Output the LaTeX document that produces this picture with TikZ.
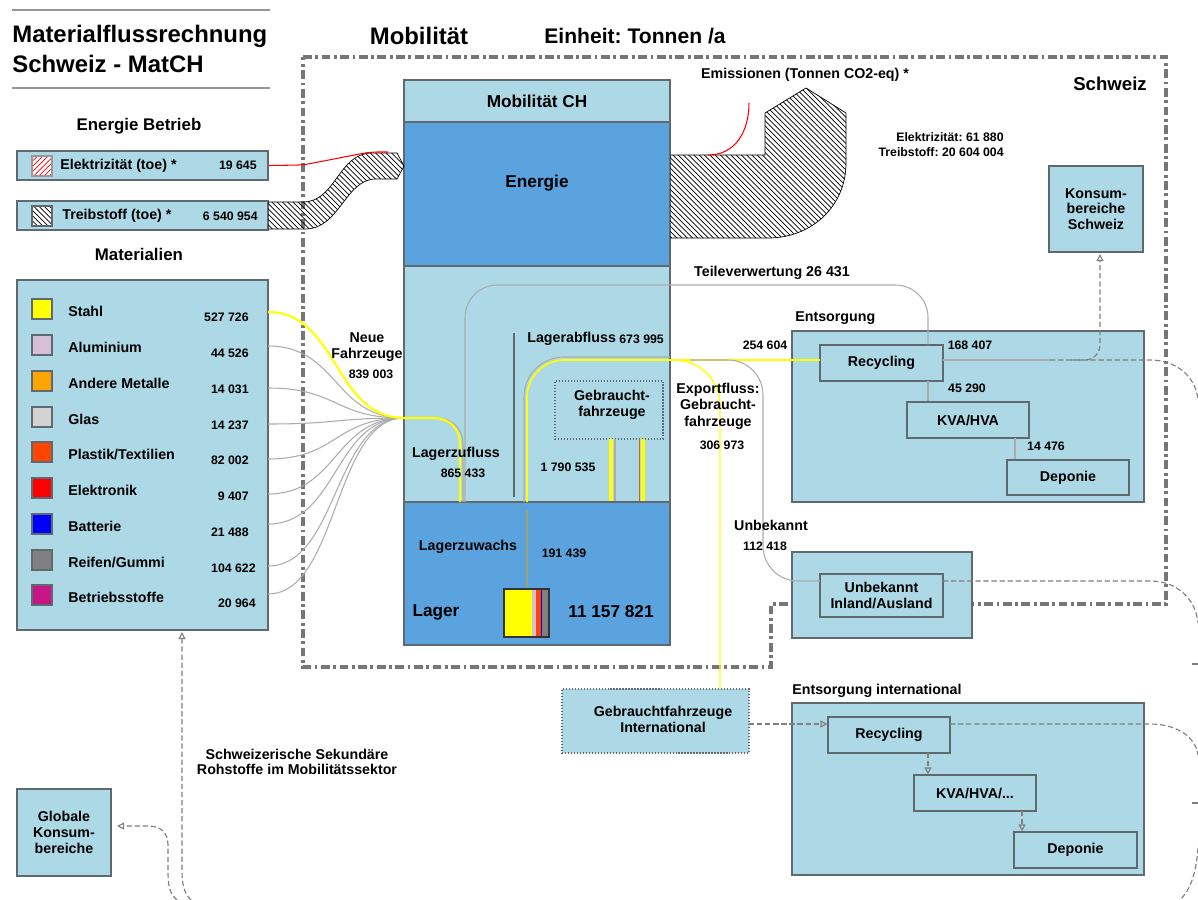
\documentclass[tikz,border=0pt]{standalone}
\usepackage{fontspec}
\setmainfont{Liberation Sans}
\usetikzlibrary{arrows.meta,patterns,positioning}
\frenchspacing

\definecolor{boxblue}{RGB}{173,216,230}
\definecolor{deepblue}{RGB}{91,163,222}
\definecolor{edgegray}{RGB}{96,104,112}
\definecolor{flowgray}{RGB}{172,172,172}
\definecolor{dashgray}{RGB}{128,128,128}
\definecolor{chgray}{RGB}{118,118,118}
\definecolor{rulegray}{RGB}{150,150,150}
\definecolor{cstahl}{RGB}{255,255,0}
\definecolor{calu}{RGB}{216,191,216}
\definecolor{cmet}{RGB}{255,165,0}
\definecolor{cglas}{RGB}{211,211,211}
\definecolor{cplast}{RGB}{255,69,0}
\definecolor{celek}{RGB}{255,0,0}
\definecolor{cbatt}{RGB}{0,0,255}
\definecolor{cgummi}{RGB}{128,128,128}
\definecolor{cbetr}{RGB}{199,21,133}
\definecolor{cwachs}{RGB}{160,160,120}

\newcommand{\fttl}{\bfseries\fontsize{13.6}{15}\selectfont}
\newcommand{\fhead}{\bfseries\fontsize{12}{14}\selectfont}
\newcommand{\fsch}{\bfseries\fontsize{10.6}{12}\selectfont}
\newcommand{\fsub}{\bfseries\fontsize{9.6}{11}\selectfont}
\newcommand{\fbig}{\bfseries\fontsize{9.8}{11}\selectfont}
\newcommand{\flbl}{\bfseries\fontsize{8.1}{8.9}\selectfont}
\newcommand{\flbw}{\bfseries\fontsize{8.1}{9.4}\selectfont}
\newcommand{\fnum}{\bfseries\fontsize{7}{8.5}\selectfont}

\tikzset{
  sz/.style 2 args={minimum width=#1*0.02cm, minimum height=#2*0.02cm},
  box/.style={draw=edgegray, fill=boxblue, line width=0.7pt, inner sep=0pt, align=center, font=\flbl},
  dotbox/.style={box, densely dotted},
  txt/.style={inner sep=0pt, align=center},
  swatch/.style={draw=edgegray, line width=0.6pt, minimum size=0.4cm, inner sep=0pt},
  titlerule/.style={rulegray, line width=0.8pt},
  chline/.style={chgray, line width=2.1pt, dash pattern=on 5pt off 2pt on 1.6pt off 2pt},
  gflow/.style={flowgray, line width=0.6pt},
  yflow/.style={cstahl, line width=1pt},
  dconn/.style={dashgray, line width=0.65pt, dash pattern=on 3pt off 1.6pt},
  opentip/.style={-{Triangle[open, length=4pt, width=4pt]}},
  hatchband/.style={pattern=north west lines, draw=black, line width=0.4pt},
}

\begin{document}
\begin{tikzpicture}[x=0.02cm, y=-0.02cm]
\useasboundingbox (0,0) rectangle (1198,900);

\draw[titlerule] (12,10) -- (270,10);
\node[txt, anchor=base west, font=\fttl] (ttla) at (12,42) {Materialflussrechnung};
\node[txt, anchor=base west, font=\fttl] (ttlb) at (12,72) {Schweiz - MatCH};
\draw[titlerule] (12,88) -- (270,88);
\node[txt, font=\fttl] (mobtitle) at (419,36) {Mobilität};
\node[txt, font=\fhead] (einheit) at (635,36) {Einheit: Tonnen /a};

\draw[chline] (303,57) -- (1166,57) -- (1166,604) -- (771,604) -- (771,667) -- (303,667) -- cycle;
\node[txt, font=\fsch] (chlab) at (1110,84) {Schweiz};

\node[txt, font=\fsub] (enbetr) at (139,126) {Energie Betrieb};
\node[box, sz={251}{29}] (elek) at (142.5,165.5) {};
\node[swatch, draw=black!40, preaction={fill=white}, pattern=north east lines, pattern color=red] (elsq) at (42,166) {};
\node[txt, anchor=west, font=\flbl] (elektxt) at (60,166) {Elektrizität (toe) *};
\node[txt, anchor=east, font=\fnum] (eleknum) at (257,165) {19 645};
\node[box, sz={251}{29}] (treib) at (142.5,215.5) {};
\node[swatch, preaction={fill=white}, pattern=north west lines] (trsq) at (42,216) {};
\node[txt, anchor=west, font=\flbl] (treibtxt) at (62,216) {Treibstoff (toe) *};
\node[txt, anchor=east, font=\fnum] (treibnum) at (258,216) {6 540 954};

\node[txt, font=\fsub] (mathead) at (139,254) {Materialien};
\node[box, sz={251}{350}] (mat) at (142.5,455) {};
\foreach \yy/\yo/\nm/\col/\val/\vx [count=\k] in {
  309/312/Stahl/cstahl/527 726/249,
  345/346/Aluminium/calu/44 526/249,
  381/388/Andere Metalle/cmet/14 031/249,
  417/424/Glas/cglas/14 237/249,
  452/459/{Plastik/Textilien}/cplast/82 002/249,
  488/494/Elektronik/celek/9 407/249,
  524/524/Batterie/cbatt/21 488/249,
  560/566/{Reifen/Gummi}/cgummi/104 622/256,
  595/594/Betriebsstoffe/cbetr/20 964/256}
{
  \node[swatch, fill=\col] (sq\k) at (42,\yy) {};
  \node[txt, anchor=west, font=\flbl] (lab\k) at (68,\yy+2) {\nm};
  \node[txt, anchor=east, font=\fnum] (num\k) at (\vx,\yy+8) {\val};
  \coordinate (out\k) at (268,\yo);
}

\node[box, sz={266}{42}, font=\fbig] (mobch) at (537,101) {Mobilität CH};
\node[box, fill=deepblue, sz={266}{144}] (energie) at (537,194) {};
\node[txt, font=\fbig] (energietxt) at (537,183) {Energie};
\node[box, sz={266}{236}] (mitte) at (537,384) {};
\node[box, fill=deepblue, sz={266}{143}] (lager) at (537,573.5) {};

\draw[hatchband] (268,202) -- (303,202) .. controls (336,202) and (338,153) .. (372,153) -- (397,153) -- (404,166) -- (397,179) -- (376,179) .. controls (345,179) and (340,229) .. (305,229) -- (268,229);
\draw[celek, line width=0.6pt, rounded corners=0.15cm] (elek.east) -- (303,165) -- (370,152) -- (388,152);
\draw[hatchband] (670,155) -- (765,155) -- (765,113) -- (806,88) -- (846,113) -- (846,163) .. controls (846,206) and (812,238) .. (768,238) -- (670,238);
\draw[celek, line width=0.6pt] (708,155) .. controls (735,155) and (749,132) .. (749,103);
\node[txt, font=\flbl] (emis) at (805,75) {Emissionen (Tonnen CO2-eq) *};
\node[txt, font=\fnum, align=right, anchor=east] (emisnum) at (1004,145) {Elektrizität: 61 880\\Treibstoff: 20 604 004};

\node[box, sz={94}{86}] (konsum) at (1096,209) {Konsum-\\bereiche\\Schweiz};

\draw[edgegray, line width=0.8pt] (514,333) -- (514,497);
\node[dotbox, sz={108}{58}] (gebr) at (609,410) {};
\node[txt, font=\flbw] (gebrtxt) at (612,405) {Gebraucht-\\fahrzeuge};

\coordinate (sta) at (611,439);
\coordinate (stc) at (615,439);
\coordinate (std) at (639.5,439);
\coordinate (stb) at (643,439);
\draw[cstahl, line width=2.3pt] (sta) -- (sta |- lager.north);
\draw[calu!60!gray, line width=1pt] (stc) -- (stc |- lager.north);
\draw[cplast!50!gray, line width=0.7pt] (std) -- (std |- lager.north);
\draw[cstahl, line width=2.4pt] (stb) -- (stb |- lager.north);

\fill[cstahl] (504,589) rectangle (532,637);
\fill[calu] (532,589) rectangle (536,637);
\fill[cplast] (536,589) rectangle (541,637);
\fill[cbatt] (541,589) rectangle (542.2,637);
\fill[cgummi] (542.2,589) rectangle (549,637);
\node[draw=black!80, line width=0.6pt, sz={45}{48}, inner sep=0pt] (stack) at (526.5,613) {};
\coordinate (zw) at (527,510);
\draw[cwachs, line width=0.6pt] (zw) -- (zw |- stack.north);
\node[txt, font=\flbl] (zuwachs) at (468,547) {Lagerzuwachs};
\node[txt, font=\fnum] (zuwachsn) at (564,553) {191 439};
\node[txt, font=\fbig] (lagertxt) at (436,612) {Lager};
\node[txt, font=\fbig] (lagern) at (611,612) {11 157 821};

\coordinate (lzin) at (404,418);
\coordinate (zuin) at (463,502);
\coordinate (zuiny) at (460,502);
\foreach \k in {2,...,9}
  \draw[gflow] (out\k) .. controls +(70,0) and +(-70,0) .. (lzin);
\draw[yflow, line width=1.2pt] (out1) .. controls +(70,0) and +(-70,0) .. (lzin);
\draw[gflow, rounded corners=0.5cm] (lzin) -- (zuin |- lzin) -- (zuin);
\draw[yflow, line width=1.2pt, rounded corners=0.5cm] (lzin) -- (zuiny |- lzin) -- (zuiny);
\node[txt, font=\flbw] (neuf) at (367,347) {Neue\\Fahrzeuge};
\node[txt, font=\fnum] (neufn) at (371,374) {839 003};

\node[txt, anchor=west, font=\flbl] (entsl) at (795,318) {Entsorgung};
\node[box, line width=1pt, sz={352}{171}] (entsorg) at (968,416.5) {};
\node[box, sz={123}{36}] (recyc) at (881.5,363) {Recycling};
\node[box, sz={122}{36}] (kva) at (968,420) {KVA/HVA};
\node[box, sz={122}{35}] (depo) at (1068,477.5) {Deponie};

\node[box, line width=1pt, sz={180}{86}] (unbek) at (882,595) {};
\node[box, sz={123}{43}] (unbin) at (881.5,595.5) {Unbekannt\\Inland/Ausland};

\coordinate (tvs) at (465,502);
\coordinate (tvk) at (928,285);
\draw[gflow, rounded corners=0.65cm] (tvs) -- (tvs |- tvk) -- (tvk) -- (tvk |- recyc.north);
\node[txt, font=\flbl] (tvl) at (772,273) {Teileverwertung 26 431};

\coordinate (abst) at (527,502);
\coordinate (recw) at (820,360);
\draw[gflow, rounded corners=0.8cm] (524,502) -- (524,357) -- (670,357);
\draw[yflow, rounded corners=0.75cm] (abst) -- (abst |- recw) -- (recw);
\node[txt, font=\fnum] (n254) at (765,345) {254 604};

\coordinate (exb) at (640,360);
\coordinate (exi) at (720,689);
\draw[yflow, line width=0.8pt, rounded corners=0.9cm] (exb) -- (exi |- exb) -- (exi);
\node[txt, font=\flbw] (expl) at (718,406) {Exportfluss:\\Gebraucht-\\fahrzeuge};
\node[txt, font=\fnum] (expn) at (722,445) {306 973};

\coordinate (ubb) at (690,360);
\coordinate (ubv) at (763,450);
\coordinate (ubw) at (820,581);
\draw[gflow, rounded corners=0.7cm] (ubb) -- (ubv |- ubb) -- (ubv |- ubw) -- (ubw);
\node[txt, font=\flbl] (unbl) at (771,525) {Unbekannt};
\node[txt, font=\fnum] (unbn) at (765,546) {112 418};

\node[txt, anchor=west, font=\flbl] (abfl) at (527,339) {Lagerabfluss};
\node[txt, anchor=west, font=\fnum] (abfln) at (619,339) {673 995};
\node[txt, font=\flbl] (zufl) at (456,454) {Lagerzufluss};
\node[txt, font=\fnum] (zufln) at (463,473) {865 433};
\node[txt, font=\fnum] (gebrn) at (568,467) {1 790 535};

\coordinate (rk) at (928,381);
\draw[gflow] (rk) -- (rk |- kva.north);
\coordinate (kd) at (1015,438);
\draw[gflow] (kd) -- (kd |- depo.north);
\node[txt, font=\fnum] (n168) at (970,345) {168 407};
\node[txt, font=\fnum] (n45) at (967,388) {45 290};
\node[txt, font=\fnum] (n14) at (1046,446) {14 476};

\coordinate (recr) at (943,360);
\coordinate (mrg) at (1050,360);
\coordinate (ksb) at (1100,254);
\draw[gflow] (recr) -- (mrg);
\draw[dconn] (mrg) -- (1150,360) .. controls (1178,360) and (1196,378) .. (1198,400);
\draw[dconn, opentip, rounded corners=0.3cm] (1070,360) -- (ksb |- mrg) -- (ksb);

\coordinate (ubr) at (943,581);
\draw[dconn] (ubr) -- (1150,581) .. controls (1178,581) and (1196,600) .. (1198,623);

\node[dotbox, sz={187}{64}] (gebrint) at (655.5,721) {};
\node[txt, font=\flbl] (gebrinttxt) at (663,719.5) {Gebrauchtfahrzeuge\\International};

\node[txt, anchor=west, font=\flbl] (eintl) at (792,691) {Entsorgung international};
\node[box, line width=1pt, sz={352}{172}] (entint) at (968,789) {};
\node[box, sz={122}{36}] (recint) at (889,735) {Recycling};
\node[box, sz={122}{36}] (kvaint) at (975,793) {KVA/HVA/...};
\node[box, sz={123}{36}] (depint) at (1075.5,850) {Deponie};
\coordinate (gie) at (749,724);
\draw[dconn, opentip] (gie) -- (gie -| recint.west);
\coordinate (rk2) at (928,753);
\draw[dconn, opentip] (rk2) -- (rk2 |- kvaint.north);
\coordinate (kd2) at (1022,811);
\draw[dconn, opentip] (kd2) -- (kd2 |- depint.north);
\coordinate (rir) at (950,724);
\draw[dconn] (rir) -- (1150,724) .. controls (1178,724) and (1196,738) .. (1198,755);

\draw[dashgray, line width=0.6pt] (1192,664) -- (1198,664);
\draw[dashgray, line width=0.6pt] (1192,803) -- (1198,803);
\draw[dconn] (1198,848) .. controls (1196,875) and (1190,890) .. (1180,900);

\node[box, sz={94}{87}] (glob) at (64,832.5) {Globale\\Konsum-\\bereiche};
\coordinate (globe) at (117,826);
\draw[dconn, opentip] (177,900) .. controls (169,893) and (168,885) .. (168,870) -- (168,845) .. controls (168,832) and (160,826) .. (148,826) -- (globe);
\coordinate (matin) at (182,632);
\draw[dconn, opentip] (191,900) .. controls (184,893) and (182,885) .. (182,870) -- (matin);
\node[txt, font=\flbl] (sekund) at (297,762) {Schweizerische Sekundäre\\Rohstoffe im Mobilitätssektor};

\end{tikzpicture}
\end{document}
